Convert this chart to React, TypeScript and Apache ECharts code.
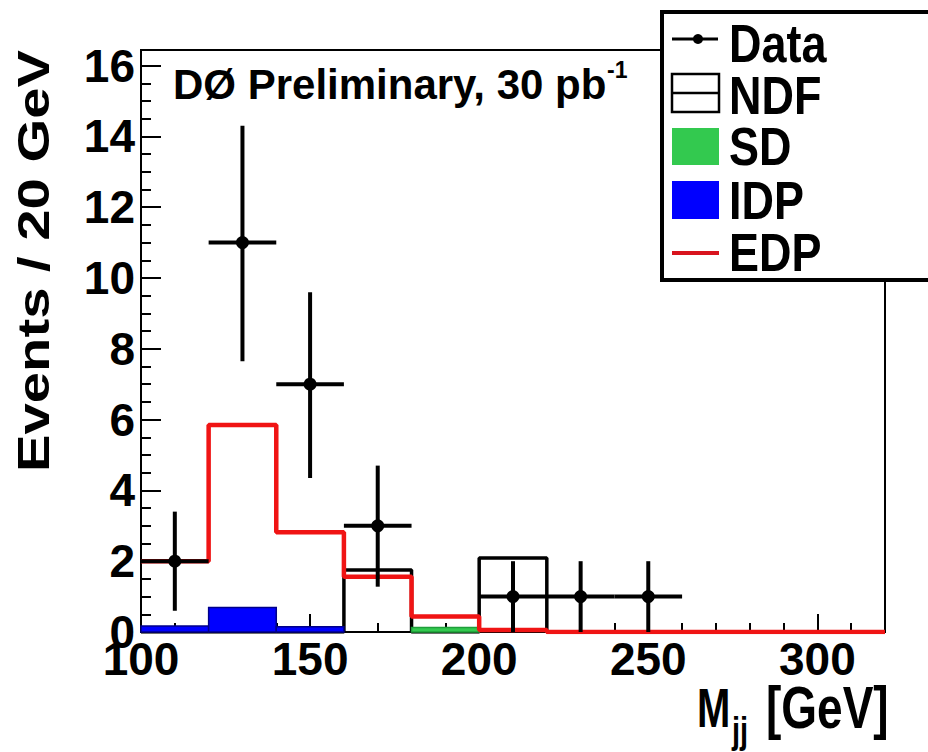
import React, { useEffect, useRef } from "react";
import * as echarts from "echarts";

// ---- data ----
const binEdges = [100, 120, 140, 160, 180, 200, 220, 240, 260, 280, 300, 320];
const ndfValues = [0, 0, 0, 1.75, 0, 2.09, 0, 0, 0, 0, 0];
const sdValues = [0, 0, 0, 0, 0.13, 0, 0, 0, 0, 0, 0];
const idpValues = [0.17, 0.69, 0.15, 0, 0, 0, 0, 0, 0, 0, 0];
const edpValues = [2.0, 5.85, 2.82, 1.56, 0.44, 0.06, 0, 0, 0, 0, 0];

const dataX = [110, 130, 150, 170, 210, 230, 250];
const dataY = [2, 11, 7, 3, 1, 1, 1];
const dataErrLow = [0.6, 7.65, 4.35, 1.28, 0, 0, 0];
const dataErrHigh = [3.4, 14.3, 9.6, 4.7, 2.0, 2.0, 2.0];
const dataHalfWidth = [10, 10, 10, 10, 10, 10, 10];

const xTicks = [100, 150, 200, 250, 300];
const yMax = 16.44;

const SANS = "'Liberation Sans', Arial, Helvetica, sans-serif";

function stepPoints(edges: number[], values: number[]) {
  const pts: number[][] = [];
  for (let i = 0; i < values.length; i++) {
    pts.push([edges[i], values[i]]);
    pts.push([edges[i + 1], values[i]]);
  }
  return pts;
}

function binRects(edges: number[], values: number[]) {
  const out: number[][] = [];
  for (let i = 0; i < values.length; i++) {
    if (values[i] > 0) out.push([edges[i], edges[i + 1], values[i]]);
  }
  return out;
}

function fillSeries(name: string, values: number[], fill: string, stroke: string) {
  return {
    type: "custom",
    name,
    data: binRects(binEdges, values),
    encode: { x: [0, 1], y: 2 },
    renderItem: (params: any, api: any) => {
      const p0 = api.coord([api.value(0), 0]);
      const p1 = api.coord([api.value(1), api.value(2)]);
      return {
        type: "rect",
        shape: { x: p0[0], y: p1[1], width: p1[0] - p0[0], height: p0[1] - p1[1] },
        style: { fill, stroke, lineWidth: 1.5 },
      };
    },
    z: 3,
  };
}

export default function App() {
  const ref = useRef<HTMLDivElement>(null);

  useEffect(() => {
    if (!ref.current) return;
    const chart = echarts.init(ref.current, null, { renderer: "svg" });

    const dataItems = dataX.map((x, i) => [
      x,
      dataY[i],
      dataErrLow[i],
      dataErrHigh[i],
      x - dataHalfWidth[i],
      x + dataHalfWidth[i],
    ]);

    const legendEntries: [string, number][] = [
      ["Data", 43.5],
      ["NDF", 95],
      ["SD", 146.5],
      ["IDP", 200],
      ["EDP", 252.5],
    ];

    const option: any = {
      animation: false,
      backgroundColor: "#fff",
      grid: {
        left: 141,
        right: 43,
        top: 50,
        bottom: 120,
        show: true,
        borderColor: "#000",
        borderWidth: 2,
        backgroundColor: "transparent",
      },
      xAxis: [
        {
          type: "value",
          min: 100,
          max: 320,
          interval: 50,
          position: "bottom",
          axisLine: { show: true, onZero: false, lineStyle: { color: "#000", width: 2 } },
          axisTick: { show: true, inside: true, length: 18, lineStyle: { color: "#000", width: 2 } },
          axisLabel: {
            show: true,
            margin: 4,
            fontSize: 46,
            fontWeight: "bold",
            fontFamily: SANS,
            color: "#000",
            showMaxLabel: false,
            formatter: (v: number) => (xTicks.indexOf(v) >= 0 ? String(v) : ""),
          },
          splitLine: { show: false },
        },
        {
          type: "value",
          min: 100,
          max: 320,
          interval: 10,
          position: "bottom",
          axisLine: { show: false },
          axisTick: { show: true, inside: true, length: 9, lineStyle: { color: "#000", width: 2 } },
          axisLabel: { show: false },
          splitLine: { show: false },
        },
      ],
      yAxis: [
        {
          type: "value",
          min: 0,
          max: yMax,
          interval: 2,
          position: "left",
          axisLine: { show: true, onZero: false, lineStyle: { color: "#000", width: 2 } },
          axisTick: { show: true, inside: true, length: 20, lineStyle: { color: "#000", width: 2 } },
          axisLabel: {
            show: true,
            margin: 6,
            fontSize: 46,
            fontWeight: "bold",
            fontFamily: SANS,
            color: "#000",
            showMaxLabel: false,
          },
          splitLine: { show: false },
        },
        {
          type: "value",
          min: 0,
          max: yMax,
          interval: 0.5,
          position: "left",
          axisLine: { show: false },
          axisTick: { show: true, inside: true, length: 10, lineStyle: { color: "#000", width: 2 } },
          axisLabel: { show: false },
          splitLine: { show: false },
        },
      ],
      series: [
        {
          type: "line",
          name: "NDF",
          data: stepPoints(binEdges, ndfValues),
          showSymbol: false,
          lineStyle: { color: "#000", width: 3.5 },
          z: 2,
        },
        fillSeries("SD", sdValues, "#33c94f", "#1f9e3a"),
        fillSeries("IDP", idpValues, "#0000ff", "#00008a"),
        {
          type: "line",
          name: "EDP",
          data: stepPoints(binEdges, edpValues),
          showSymbol: false,
          lineStyle: { color: "#f01414", width: 4.5 },
          z: 4,
        },
        {
          type: "custom",
          name: "Data",
          data: dataItems,
          encode: { x: 0, y: 1 },
          z: 5,
          renderItem: (params: any, api: any) => {
            const c = api.coord([api.value(0), api.value(1)]);
            const lo = api.coord([api.value(0), api.value(2)]);
            const hi = api.coord([api.value(0), api.value(3)]);
            const l = api.coord([api.value(4), api.value(1)]);
            const r = api.coord([api.value(5), api.value(1)]);
            const st = { stroke: "#000", lineWidth: 4 };
            return {
              type: "group",
              children: [
                { type: "line", shape: { x1: l[0], y1: c[1], x2: r[0], y2: c[1] }, style: st },
                { type: "line", shape: { x1: c[0], y1: lo[1], x2: c[0], y2: hi[1] }, style: st },
                { type: "circle", shape: { cx: c[0], cy: c[1], r: 6.5 }, style: { fill: "#000" } },
              ],
            };
          },
        },
      ],
      graphic: [
        // title
        {
          type: "text",
          x: 173,
          y: 84,
          style: {
            text: "DØ Preliminary, 30 pb",
            font: `bold 42px ${SANS}`,
            fill: "#000",
            align: "left",
            verticalAlign: "middle",
          },
          z: 10,
        },
        {
          type: "text",
          x: 607,
          y: 70,
          style: { text: "-1", font: `bold 23px ${SANS}`, fill: "#000", align: "left", verticalAlign: "middle" },
          z: 10,
        },
        // y axis title
        {
          type: "text",
          x: 34,
          y: 261,
          rotation: Math.PI / 2,
          scaleX: 1.25,
          style: {
            text: "Events / 20 GeV",
            font: `bold 45px ${SANS}`,
            fill: "#000",
            align: "center",
            verticalAlign: "middle",
          },
          z: 10,
        },
        // x axis title
        {
          type: "text",
          x: 697,
          y: 707,
          scaleY: 1.4,
          style: { text: "M", font: `bold 40px ${SANS}`, fill: "#000", align: "left", verticalAlign: "middle" },
          z: 10,
        },
        {
          type: "text",
          x: 732,
          y: 730,
          scaleY: 1.3,
          style: { text: "jj", font: `bold 29px ${SANS}`, fill: "#000", align: "left", verticalAlign: "middle" },
          z: 10,
        },
        {
          type: "text",
          x: 766,
          y: 707,
          scaleY: 1.27,
          style: { text: "[GeV]", font: `bold 46px ${SANS}`, fill: "#000", align: "left", verticalAlign: "middle" },
          z: 10,
        },
        // legend box
        {
          type: "group",
          z: 20,
          children: [
            {
              type: "rect",
              shape: { x: 662, y: 12, width: 290, height: 268 },
              style: { fill: "#fff", stroke: "#000", lineWidth: 4 },
            },
            { type: "line", shape: { x1: 672, y1: 39, x2: 718, y2: 39 }, style: { stroke: "#000", lineWidth: 3 } },
            { type: "circle", shape: { cx: 698, cy: 39, r: 5 }, style: { fill: "#000" } },
            {
              type: "rect",
              shape: { x: 672, y: 74, width: 47, height: 38 },
              style: { fill: "#fff", stroke: "#000", lineWidth: 2.5 },
            },
            { type: "line", shape: { x1: 672, y1: 93, x2: 719, y2: 93 }, style: { stroke: "#000", lineWidth: 2.5 } },
            { type: "rect", shape: { x: 672, y: 128, width: 47, height: 37 }, style: { fill: "#33c94f" } },
            { type: "rect", shape: { x: 672, y: 181, width: 47, height: 38 }, style: { fill: "#0000ff" } },
            { type: "line", shape: { x1: 672, y1: 253, x2: 719, y2: 253 }, style: { stroke: "#d8141e", lineWidth: 4 } },
            ...legendEntries.map(([t, y]) => ({
              type: "text",
              x: 729,
              y,
              scaleY: 1.18,
              style: {
                text: t,
                font: `bold 45px ${SANS}`,
                fill: "#000",
                align: "left",
                verticalAlign: "middle",
              },
            })),
          ],
        },
      ],
    };

    chart.setOption(option);
    return () => {
      chart.dispose();
    };
  }, []);

  return (
    <div
      ref={ref}
      style={{ position: "absolute", left: 0, top: 0, width: 928, height: 752, background: "#fff" }}
    />
  );
}
